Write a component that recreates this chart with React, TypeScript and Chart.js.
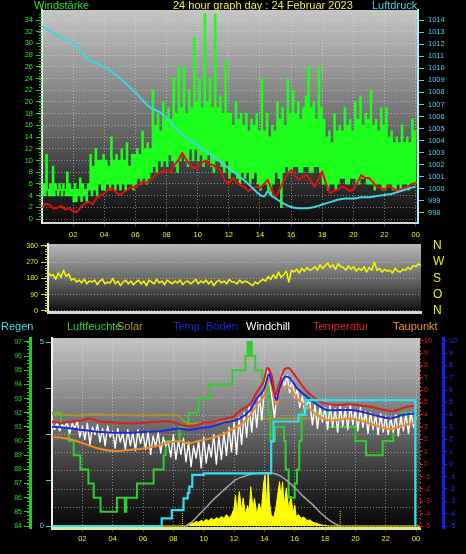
import React, { useEffect, useRef } from 'react';
import { Chart, registerables } from 'chart.js';
Chart.register(...registerables);

const FONT = "'Liberation Sans', Arial, sans-serif";

// ---------- shared ----------
const xTickVals = [2, 4, 6, 8, 10, 12, 14, 16, 18, 20, 22, 24];

// ---------- top chart: wind gusts (5-min), average wind (15-min) & pressure ----------
const gust = [
  4, 6, 4, 11, 5, 4, 6, 4, 9, 4, 6, 5,
  4, 6, 5, 4, 6, 5, 4, 8, 4, 6, 4, 5,
  3, 6, 3, 5, 4, 7, 3, 6, 4, 5, 3, 6,
  5, 11, 4, 9, 5, 12, 4, 10, 6, 10, 5, 11,
  5, 10, 6, 9, 5, 14, 6, 10, 5, 11, 6, 10,
  5, 12, 6, 10, 5, 13, 6, 9, 6, 11, 5, 11,
  6, 12, 7, 11, 6, 15, 7, 12, 6, 13, 7, 12,
  8, 22, 9, 16, 8, 18, 10, 15, 9, 20, 10, 17,
  9, 19, 11, 17, 10, 24, 9, 18, 8, 26, 10, 19,
  11, 26, 10, 18, 9, 22, 12, 19, 10, 31, 12, 20,
  10, 24, 11, 19, 9, 35, 10, 20, 11, 24, 9, 19,
  8, 35, 10, 19, 10, 21, 9, 18, 8, 27, 10, 18,
  7, 18, 8, 16, 8, 20, 7, 17, 6, 18, 8, 16,
  7, 18, 8, 15, 6, 17, 7, 16, 8, 18, 6, 15,
  5, 24, 6, 15, 6, 18, 5, 14, 4, 16, 6, 15,
  8, 20, 7, 17, 2, 19, 8, 16, 9, 24, 8, 18,
  8, 22, 9, 18, 9, 20, 8, 17, 8, 19, 9, 21,
  9, 26, 8, 19, 8, 20, 9, 17, 9, 26, 8, 19,
  6, 17, 6, 14, 5, 15, 6, 13, 6, 18, 5, 15,
  6, 16, 7, 15, 7, 19, 6, 16, 6, 17, 7, 15,
  7, 20, 6, 17, 6, 21, 7, 16, 7, 18, 6, 17,
  6, 22, 6, 16, 5, 17, 6, 15, 6, 19, 5, 16,
  5, 19, 6, 14, 6, 15, 5, 13, 5, 14, 6, 13,
  5, 16, 6, 13, 6, 14, 5, 13, 6, 17, 6, 15,
  6,
];
const windAvg = [
  2.0, 2.6, 2.4, 1.8, 1.9, 2.2, 1.6, 1.9,
  1.3, 1.2, 2.1, 2.6, 3.0, 2.5, 3.6, 4.0,
  4.4, 5.0, 5.3, 4.6, 4.1, 4.6, 5.0, 5.6,
  5.3, 6.0, 6.4, 6.2, 6.7, 7.4, 7.9, 8.1,
  8.4, 8.0, 9.2, 10.0, 11.3, 10.2, 9.2, 8.6,
  8.9, 9.6, 10.0, 9.4, 9.2, 8.7, 8.1, 6.5,
  6.0, 7.0, 6.3, 5.8, 5.5, 4.8, 5.2, 5.5,
  5.3, 5.9, 6.7, 5.0, 3.6, 5.0, 6.4, 7.6,
  8.4, 7.4, 6.7, 7.2, 7.5, 6.6, 5.5, 6.8,
  8.1, 6.0, 4.4, 4.8, 5.0, 5.6, 5.3, 4.8,
  5.0, 6.2, 7.5, 7.0, 7.0, 6.3, 5.5, 5.3,
  5.0, 5.6, 5.3, 4.9, 5.0, 5.4, 5.5, 6.0,
  6.2,
];
const pressTimes = [0, 0.5, 1, 1.5, 2, 2.5, 3, 3.5, 4, 4.5, 5, 5.5, 6, 6.5, 7, 7.5, 8, 8.5, 9, 9.5, 10, 10.5, 11, 11.5, 12, 12.5, 13, 13.5, 14, 14.3, 14.5, 14.7, 15, 15.5, 16, 16.5, 17, 17.5, 18, 18.5, 19, 19.5, 20, 20.5, 21, 21.5, 22, 22.5, 23, 23.5, 24];
const pressure = [1013.5, 1013.1, 1012.7, 1012.4, 1012.1, 1011.4, 1010.7, 1010.4, 1010.1, 1009.7, 1009.2, 1008.6, 1008.0, 1007.3, 1006.7, 1006.4, 1005.9, 1005.1, 1004.5, 1004.0, 1003.6, 1003.1, 1002.7, 1002.2, 1001.7, 1001.2, 1000.7, 1000.1, 999.5, 999.4, 999.8, 999.5, 999.2, 998.8, 998.5, 998.4, 998.4, 998.5, 998.7, 998.9, 999.1, 999.2, 999.2, 999.3, 999.3, 999.4, 999.5, 999.6, 999.8, 1000.0, 1000.2];
const windTicks = [0, 2, 4, 6, 8, 10, 12, 14, 16, 18, 20, 22, 24, 26, 28, 30, 32, 34];
const pressTicks = [998, 999, 1000, 1001, 1002, 1003, 1004, 1005, 1006, 1007, 1008, 1009, 1010, 1011, 1012, 1013, 1014];

// ---------- middle chart: wind direction (10-min) ----------
const direction = [
  215, 195, 200, 175, 210, 185,
  225, 190, 205, 170, 180, 160,
  170, 155, 175, 150, 165, 160,
  170, 145, 165, 175, 150, 160,
  155, 180, 150, 165, 140, 160,
  170, 150, 165, 145, 160, 170,
  150, 165, 140, 170, 160, 150,
  175, 155, 165, 145, 170, 160,
  150, 165, 155, 170, 145, 160,
  165, 150, 160, 175, 150, 165,
  155, 170, 150, 165, 140, 160,
  170, 155, 165, 150, 175, 160,
  160, 150, 170, 155, 165, 160,
  150, 140, 160, 150, 165, 175,
  165, 190, 175, 200, 180, 215,
  185, 200, 220, 160, 225, 215,
  230, 210, 235, 220, 240, 225,
  230, 245, 225, 255, 235, 250,
  265, 240, 255, 230, 260, 245,
  240, 225, 250, 230, 245, 220,
  235, 225, 245, 215, 240, 225,
  270, 225, 235, 215, 230, 220,
  225, 210, 235, 220, 215, 230,
  225, 240, 230, 250, 245, 260,
  250,
];
const dirTicks = [0, 90, 180, 270, 360];
const dirNames = ['N', 'O', 'S', 'W', 'N'];

// ---------- bottom chart ----------
const rainTimes = [0, 7.23, 7.9, 8.67, 8.95, 9.05, 9.25, 10.0, 14.45, 14.6, 16.25, 16.7, 23.95];
const rain = [0, 0.21, 0.43, 0.75, 0.9, 1.07, 1.39, 1.43, 2.3, 2.84, 3.02, 3.42, 0];
const humTimes = [0, 0.6, 1.1, 1.43, 1.87, 2.4, 2.75, 3.2, 4.28, 4.8, 4.9, 5.6, 6.7, 7.36, 7.5, 8.4, 9.0, 9.65, 10.4, 11.9, 12.75, 12.9, 12.97, 13.1, 13.17, 13.4, 13.85, 14.25, 14.4, 14.7, 15.3, 15.4, 15.6, 16.0, 16.15, 16.3, 16.45, 16.7, 17.3, 18.2, 20.0, 20.7, 21.8, 22.5, 23.0, 24.0];
const humidity = [92, 91, 90, 89, 88, 87, 86, 85, 86, 85, 86, 87, 88, 89, 90, 91, 92, 93, 94, 95, 96, 97, 96, 97, 96, 95, 94, 92, 90, 91, 90, 88, 86, 87, 88, 90, 92, 93, 92, 91, 90, 89, 90, 91, 92, 92];
const tempTimes = [0, 0.5, 1, 1.5, 2, 2.4, 2.8, 3.2, 4, 5, 6, 7, 7.5, 8, 8.5, 9, 9.5, 10, 10.5, 11, 11.5, 12, 12.4, 13, 13.5, 13.95, 14.2, 14.5, 14.72, 14.95, 15.27, 15.5, 15.7, 16.15, 16.8, 17.5, 17.9, 18.8, 19.5, 20.1, 21, 21.9, 22.5, 23.4, 24];
const temperature = [3.45, 3.35, 3.4, 3.5, 3.55, 3.7, 3.6, 3.45, 3.4, 3.3, 3.35, 3.45, 3.5, 3.4, 3.2, 3.05, 3.15, 3.35, 3.4, 3.55, 3.7, 3.9, 4.35, 4.8, 5.8, 6.7, 7.8, 7.1, 5.6, 6.4, 7.6, 7.8, 7.7, 6.95, 5.9, 5.2, 4.95, 4.8, 4.85, 4.8, 4.65, 4.4, 4.3, 4.65, 4.75];
const curveTimes = [0, 0.9, 1.75, 3, 4, 5, 6.15, 7.25, 8.35, 9.0, 9.65, 10.5, 11.4, 11.75, 12.4, 13.07, 13.5, 13.95, 14.3, 14.5, 14.8, 15.0, 15.35, 15.7, 16.15, 16.8, 17.5, 18.1, 18.8, 19.7, 20.6, 21.4, 22.3, 23.1, 24];
const soilTemp = [3.04, 2.96, 2.82, 2.63, 2.55, 2.55, 2.63, 2.69, 2.9, 2.77, 2.9, 3.04, 3.39, 3.45, 3.71, 4.39, 5.33, 6.0, 7.28, 6.55, 5.2, 6.15, 7.08, 6.95, 6.15, 5.47, 4.8, 4.39, 4.39, 4.39, 4.2, 3.93, 3.71, 3.98, 4.12];
const dewPoint = [2.23, 2.1, 1.82, 1.29, 1.07, 1.15, 1.29, 1.6, 1.88, 1.69, 1.88, 2.1, 2.5, 2.77, 3.17, 3.98, 4.8, 5.47, 6.95, 6.15, 4.8, 5.74, 6.28, 6.15, 5.33, 4.66, 3.98, 3.58, 3.58, 3.71, 3.44, 3.12, 2.85, 3.12, 3.39];
const oliveTimes = [0, 1.5, 2.6, 4, 6, 8.3, 8.6, 9.0, 10, 11, 12, 13, 24];
const oliveTemp = [4.05, 3.95, 4.05, 4.0, 3.95, 3.95, 3.6, 3.3, 3.35, 3.45, 3.6, 3.7, 3.7];
const windchill = [
  3.3, 2.8, 3.4, 2.7, 3.2, 3.0,
  3.4, 2.5, 3.3, 2.9, 3.5, 2.2,
  3.1, 2.0, 3.3, 1.6, 3.0, 2.4,
  3.2, 1.8, 2.9, 1.5, 3.1, 2.2,
  2.7, 1.3, 2.9, 1.8, 2.5, 1.2,
  2.8, 1.5, 2.6, 1.1, 2.8, 1.7,
  2.5, 1.2, 2.7, 0.8, 2.3, 1.4,
  2.6, 0.9, 2.2, 1.5, 1.8, 0.6,
  2.4, 0.4, 1.9, 0.8, 2.1, 0.2,
  1.8, -0.2, 1.5, 0.5, 1.9, -0.3,
  2.2, 0.1, 1.6, 0.6, 2.4, 0.0,
  2.3, 0.4, 2.6, 0.7, 3.0, 1.0,
  3.4, 0.8, 3.8, 1.6, 4.2, 2.2,
  4.8, 2.6, 5.0, 3.0, 5.6, 3.6,
  6.2, 7.7, 6.9, 5.4, 3.8, 5.6,
  6.6, 7.5, 6.2, 7.2, 5.8, 6.9,
  5.4, 6.1, 4.6, 5.5, 4.2, 5.0,
  5.0, 3.2, 4.8, 2.9, 4.6, 3.4,
  4.6, 2.8, 4.8, 3.0, 4.5, 2.6,
  4.7, 3.1, 4.5, 2.8, 4.8, 3.2,
  4.4, 2.7, 4.6, 3.0, 4.3, 2.5,
  4.2, 2.8, 4.0, 2.4, 4.1, 2.6,
  3.9, 2.4, 3.8, 2.6, 4.0, 2.3,
  3.9, 2.7, 4.1, 2.5, 4.2, 3.0,
  3.8,
];
const solarTimes = [0, 8.8, 9.0, 9.17, 9.33, 9.5, 9.67, 9.83, 10.0, 10.17, 10.33, 10.5, 10.67, 10.83, 11.0, 11.17, 11.33, 11.5, 11.67, 11.83, 12.0, 12.1, 12.2, 12.35, 12.5, 12.6, 12.75, 12.9, 13.0, 13.1, 13.25, 13.35, 13.5, 13.65, 13.8, 13.95, 14.05, 14.15, 14.25, 14.35, 14.45, 14.6, 14.75, 14.9, 15.0, 15.1, 15.2, 15.3, 15.45, 15.6, 15.75, 15.9, 16.0, 16.1, 16.25, 16.4, 16.6, 16.8, 17.0, 17.2, 17.4, 17.6, 17.8, 18.0, 18.3, 24.26];
const solar = [0, 0, 12, 20, 15, 25, 20, 30, 24, 36, 28, 42, 32, 46, 38, 52, 42, 62, 45, 58, 95, 168, 72, 187, 82, 152, 62, 112, 72, 214, 92, 150, 62, 122, 82, 232, 277, 102, 288, 122, 62, 42, 92, 182, 241, 152, 240, 112, 207, 92, 162, 72, 114, 52, 62, 42, 49, 30, 33, 20, 16, 10, 5, 2, 0, 0];
const solarMaxTimes = [8.8, 9.0, 9.5, 10.1, 10.6, 11.2, 11.6, 12.1, 12.6, 13.2, 13.8, 14.3, 14.7, 15.05, 15.5, 16.1, 16.6, 17.2, 17.7, 18.3, 18.75, 19.0];
const solarMax = [0, 5, 45, 96, 140, 186, 215, 250, 268, 282, 288, 289, 284, 272, 245, 200, 158, 115, 72, 30, 8, 0];
const sunMarkTimes = [8.6, 19.0];
const sunMarkVals = [70, 87];
const rainTicks = [0, 1.25, 2.5, 3.75, 5];
const rainGrid = [0, 0.5, 1, 1.5, 2, 2.5, 3, 3.5, 4, 4.5, 5];
const humTicks = [84, 85, 86, 87, 88, 89, 90, 91, 92, 93, 94, 95, 96, 97];
const tempTicks = [-5, -4, -3, -2, -1, 0, 1, 2, 3, 4, 5, 6, 7, 8, 9, 10];

// ---------- helpers ----------
const pts = (times: number[], vals: number[]) => vals.map((v, i) => ({ x: times[i], y: v }));
const every = (vals: number[], perHour: number) => vals.map((v, i) => ({ x: i / perHour, y: v }));
const setTicks = (vals: number[]) => (s: any) => { s.ticks = vals.map((v) => ({ value: v })); };
const hourLabel = (v: any) => String(Math.round(Number(v)) % 24).padStart(2, '0');
const plain = (v: any) => String(v);
const font = (size: number) => ({ family: FONT, size });
const GRID = 'rgba(225,225,225,0.5)';

const bgPlugin = {
  id: 'plotBg',
  beforeDraw(chart: any, _a: any, opts: any) {
    const { ctx, chartArea: a } = chart;
    if (!a) return;
    const g = ctx.createLinearGradient(0, a.top, 0, a.bottom);
    (opts.stops || []).forEach((s: any) => g.addColorStop(s[0], s[1]));
    ctx.save();
    ctx.fillStyle = g;
    ctx.fillRect(a.left, a.top, a.right - a.left, a.bottom - a.top);
    ctx.restore();
  },
};

const minorTicks = {
  id: 'minorTicks',
  afterDraw(chart: any, _a: any, opts: any) {
    const ctx = chart.ctx;
    (opts.items || []).forEach((it: any) => {
      const s = chart.scales[it.scale];
      if (!s) return;
      const x0 = it.side === 'left' ? s.right : s.left;
      const dir = it.side === 'left' ? -1 : 1;
      ctx.save();
      ctx.strokeStyle = it.color;
      ctx.lineWidth = 1;
      if (it.dash) ctx.setLineDash(it.dash);
      ctx.beginPath();
      if (it.vertical) {
        ctx.moveTo(x0 + 0.5, chart.chartArea.top);
        ctx.lineTo(x0 + 0.5, chart.chartArea.bottom);
      } else {
        for (let v = it.from; v <= it.to + 1e-9; v += it.step) {
          const y = Math.round(s.getPixelForValue(v)) + 0.5;
          ctx.moveTo(x0, y);
          ctx.lineTo(x0 + dir * it.len, y);
        }
      }
      ctx.stroke();
      ctx.restore();
    });
  },
};

const baseOpts = (padding: any, stops: any[], minor: any[]) => ({
  responsive: false,
  animation: false as const,
  events: [] as any[],
  layout: { padding },
  plugins: {
    legend: { display: false },
    tooltip: { enabled: false },
    plotBg: { stops },
    minorTicks: { items: minor },
  },
});

function makeTop(c: HTMLCanvasElement) {
  return new Chart(c, {
    type: 'line',
    data: {
      datasets: [
        { data: pts(pressTimes, pressure), yAxisID: 'yP', borderColor: '#3cd6e4', borderWidth: 2, pointRadius: 0, tension: 0.3 },
        { data: every(windAvg, 4), yAxisID: 'y', borderColor: '#e01010', borderWidth: 2, pointRadius: 0, borderJoinStyle: 'round' },
        { data: every(gust, 12), yAxisID: 'y', borderColor: '#1cff1c', borderWidth: 1.3, pointRadius: 0, stepped: true },
      ] as any,
    },
    options: {
      ...baseOpts({ top: 10, left: 0, right: 0, bottom: 0 }, [[0, '#c6c6c6'], [0.55, '#6a6a6a'], [1, '#080808']],
        [{ scale: 'y', side: 'left', from: 0, to: 35, step: 0.5, len: 3, color: '#20c020' }]),
      scales: {
        x: {
          type: 'linear', min: 0, max: 24.15,
          afterFit: (s: any) => { s.height = 19; },
          afterBuildTicks: setTicks(xTickVals),
          ticks: { color: '#f0f000', font: font(7.5), padding: 3, autoSkip: false, maxRotation: 0, callback: hourLabel },
          grid: { color: GRID, tickLength: 4, tickColor: '#3a3a3a' },
          border: { color: '#d4d4d4', width: 2, dash: [1, 2] },
        },
        y: {
          position: 'left', min: -0.68, max: 35.71,
          afterFit: (s: any) => { s.width = 42; },
          afterBuildTicks: setTicks(windTicks),
          ticks: { color: '#22ee22', font: font(7.5), padding: 3, autoSkip: false, callback: plain },
          grid: { color: GRID, tickColor: '#22cc22', tickLength: 6 },
          border: { color: '#e8e8e8', width: 2, dash: [1, 2] },
        },
        yP: {
          position: 'right', min: 997.17, max: 1014.83,
          afterFit: (s: any) => { s.width = 48; },
          afterBuildTicks: setTicks(pressTicks),
          ticks: { color: '#40d8e8', font: font(7.5), padding: 4, autoSkip: false, callback: plain },
          grid: { drawOnChartArea: false, tickColor: '#40d8e8', tickLength: 6 },
          border: { color: '#b0eef6', width: 2 },
        },
      },
    } as any,
    plugins: [bgPlugin, minorTicks],
  });
}

function makeMid(c: HTMLCanvasElement) {
  return new Chart(c, {
    type: 'line',
    data: {
      datasets: [
        { data: every(direction, 6), yAxisID: 'y', borderColor: '#f4f400', borderWidth: 1.6, pointRadius: 0, borderJoinStyle: 'round' },
      ] as any,
    },
    options: {
      ...baseOpts({ top: 12, left: 0, right: 0, bottom: 10 }, [[0, '#b8b8b8'], [0.6, '#5a5a5a'], [1, '#0c0c0c']],
        [{ scale: 'y', side: 'left', from: 0, to: 360, step: 15, len: 3, color: '#d8d800' }]),
      scales: {
        x: {
          type: 'linear', min: 0, max: 24,
          afterFit: (s: any) => { s.height = 0; },
          ticks: { display: false },
          grid: { display: false, drawTicks: false },
          border: { color: '#d8d8d8', width: 3 },
        },
        y: {
          position: 'left', min: -6, max: 370,
          afterFit: (s: any) => { s.width = 48; },
          afterBuildTicks: setTicks(dirTicks),
          ticks: { color: '#e8e800', font: font(7), padding: 3, autoSkip: false, callback: plain },
          grid: { color: 'rgba(215,215,215,0.55)', tickColor: '#e0e000', tickLength: 7 },
          border: { color: '#f0f0f0', width: 2, dash: [1, 2] },
        },
        yD: {
          position: 'right', min: -6, max: 370,
          afterFit: (s: any) => { s.width = 45; },
          afterBuildTicks: setTicks(dirTicks),
          ticks: { color: '#f0f000', font: font(12), padding: 2, autoSkip: false, callback: (_v: any, i: number) => dirNames[i] },
          grid: { drawOnChartArea: false, tickLength: 10, tickColor: 'rgba(0,0,0,0)' },
          border: { display: false },
        },
      },
    } as any,
    plugins: [bgPlugin, minorTicks],
  });
}

function makeBot(c: HTMLCanvasElement) {
  const sunMarks: any[] = [];
  sunMarkTimes.forEach((t, i) => {
    sunMarks.push({ x: t, y: 0 }, { x: t, y: sunMarkVals[i] }, { x: t, y: null });
  });
  return new Chart(c, {
    type: 'line',
    data: {
      datasets: [
        { data: pts(rainTimes, rain), yAxisID: 'yRain', borderColor: '#33dcee', borderWidth: 2.2, pointRadius: 0, stepped: true },
        { data: sunMarks, yAxisID: 'ySolar', borderColor: '#e8e800', borderWidth: 1, borderDash: [1, 1], pointRadius: 0, spanGaps: false },
        { data: pts(solarMaxTimes, solarMax), yAxisID: 'ySolar', borderColor: '#a4a4a4', borderWidth: 1.5, pointRadius: 0, tension: 0.4 },
        { data: pts(tempTimes, temperature), yAxisID: 'yTemp', borderColor: '#d82020', borderWidth: 2, pointRadius: 0, tension: 0.3 },
        { data: pts(curveTimes, soilTemp), yAxisID: 'yBoden', borderColor: '#1c28e0', borderWidth: 2, pointRadius: 0, tension: 0.3 },
        { data: pts(curveTimes, dewPoint), yAxisID: 'yTemp', borderColor: '#ee8a28', borderWidth: 2, pointRadius: 0, tension: 0.3 },
        { data: every(windchill, 6), yAxisID: 'yTemp', borderColor: '#ffffff', borderWidth: 1.4, pointRadius: 0, borderJoinStyle: 'round' },
        { data: pts(oliveTimes, oliveTemp), yAxisID: 'yTemp', borderColor: '#a89a28', borderWidth: 1.8, pointRadius: 0, tension: 0.3 },
        { data: pts(humTimes, humidity), yAxisID: 'yHum', borderColor: '#2ecf2e', borderWidth: 2, pointRadius: 0, stepped: true },
        { data: pts(solarTimes, solar), yAxisID: 'ySolar', borderColor: '#ffff00', backgroundColor: '#ffff00', borderWidth: 1, pointRadius: 0, fill: 'origin' },
      ] as any,
    },
    options: {
      ...baseOpts({ top: 20, left: 0, right: 0, bottom: 0 }, [[0, '#c4c4c4'], [0.45, '#707070'], [0.75, '#2e2e2e'], [1, '#060606']],
        [
          { scale: 'yHum', side: 'left', from: 84, to: 97, step: 0.25, len: 3, color: '#22c022' },
          { scale: 'yTemp', side: 'right', vertical: true, color: '#e02020', dash: [2, 2] },
        ]),
      scales: {
        x: {
          type: 'linear', min: 0, max: 24.26,
          afterFit: (s: any) => { s.height = 26; },
          afterBuildTicks: setTicks(xTickVals),
          ticks: { color: '#f0f000', font: font(7.5), padding: 2, autoSkip: false, maxRotation: 0, callback: hourLabel },
          grid: { color: GRID, tickLength: 4, tickColor: '#3a3a3a' },
          border: { color: '#e6e690', width: 3, dash: [1, 2] },
        },
        yRain: {
          position: 'left', min: -0.054, max: 5.109,
          afterFit: (s: any) => { s.width = 22; },
          afterBuildTicks: setTicks(rainTicks),
          ticks: { color: '#40e0f0', font: font(7.5), padding: 2, autoSkip: false, callback: (v: any) => (v === 0 || v === 5 ? String(v) : '') },
          grid: { drawOnChartArea: false, tickColor: '#30c8d8', tickLength: 6 },
          border: { color: '#f0f0f0', width: 2 },
        },
        yHum: {
          position: 'left', min: 83.86, max: 97.28,
          afterFit: (s: any) => { s.width = 30; },
          afterBuildTicks: setTicks(humTicks),
          ticks: { color: '#22dd22', font: font(7), padding: 2, autoSkip: false, callback: plain },
          grid: { drawOnChartArea: false, tickColor: '#22cc22', tickLength: 6 },
          border: { color: '#22cc22', width: 3 },
        },
        yTemp: {
          position: 'right', min: -5.16, max: 10.22,
          afterFit: (s: any) => { s.width = 23; },
          afterBuildTicks: setTicks(tempTicks),
          ticks: { color: '#e02020', font: font(7), padding: 1, autoSkip: false, callback: plain },
          grid: { drawOnChartArea: false, tickColor: '#e02020', tickLength: 3 },
          border: { display: false },
        },
        yBoden: {
          position: 'right', min: -5.16, max: 10.22,
          afterFit: (s: any) => { s.width = 23; },
          afterBuildTicks: setTicks(tempTicks),
          ticks: { color: '#2434ff', font: font(7), padding: 2, autoSkip: false, callback: plain },
          grid: { drawOnChartArea: false, tickColor: '#2434ff', tickLength: 4 },
          border: { color: '#1420f0', width: 3 },
        },
        yGrid: {
          position: 'right', min: -0.054, max: 5.109,
          afterFit: (s: any) => { s.width = 0; },
          afterBuildTicks: setTicks(rainGrid),
          ticks: { display: false },
          grid: { color: GRID, drawTicks: false },
          border: { display: false, dash: [1, 2] },
        },
        ySolar: { display: false, min: -10.9, max: 1021.7 },
      },
    } as any,
    plugins: [bgPlugin, minorTicks],
  });
}

const txt = (left: number, top: number, color: string, size = 11): React.CSSProperties => ({
  position: 'absolute', left, top, color, fontFamily: FONT, fontSize: size, lineHeight: `${size}px`, whiteSpace: 'nowrap',
});

export default function App() {
  const topRef = useRef<HTMLCanvasElement>(null);
  const midRef = useRef<HTMLCanvasElement>(null);
  const botRef = useRef<HTMLCanvasElement>(null);
  useEffect(() => {
    document.body.style.margin = '0';
    document.body.style.background = '#000';
    const charts = [makeTop(topRef.current!), makeMid(midRef.current!), makeBot(botRef.current!)];
    return () => charts.forEach((ch) => ch.destroy());
  }, []);
  return (
    <div style={{ position: 'absolute', left: 0, top: 0, width: 466, height: 554, background: '#000', overflow: 'hidden' }}>
      <canvas ref={topRef} width={466} height={242} style={{ position: 'absolute', left: 0, top: 0, width: 466, height: 242 }} />
      <canvas ref={midRef} width={466} height={90} style={{ position: 'absolute', left: 0, top: 232, width: 466, height: 90 }} />
      <canvas ref={botRef} width={466} height={236} style={{ position: 'absolute', left: 0, top: 318, width: 466, height: 236 }} />
      <span style={txt(34, 0, '#2cdc2c')}>Windstärke</span>
      <span style={txt(173, 0, '#f0f040')}>24 hour graph day : 24 Februar 2023</span>
      <span style={txt(372, 0, '#40d4e4')}>Luftdruck</span>
      <span style={txt(1, 321, '#40dcec')}>Regen</span>
      <span style={txt(67, 321, '#2ed02e')}>Luftfeuchte</span>
      <span style={txt(117, 321, '#a8a030')}>Solar</span>
      <span style={txt(173, 321, '#1c28d8')}>Temp. Boden</span>
      <span style={txt(246, 321, '#ffffff')}>Windchill</span>
      <span style={txt(313, 321, '#e02020')}>Temperatur</span>
      <span style={txt(393, 321, '#f09030')}>Taupunkt</span>
    </div>
  );
}
